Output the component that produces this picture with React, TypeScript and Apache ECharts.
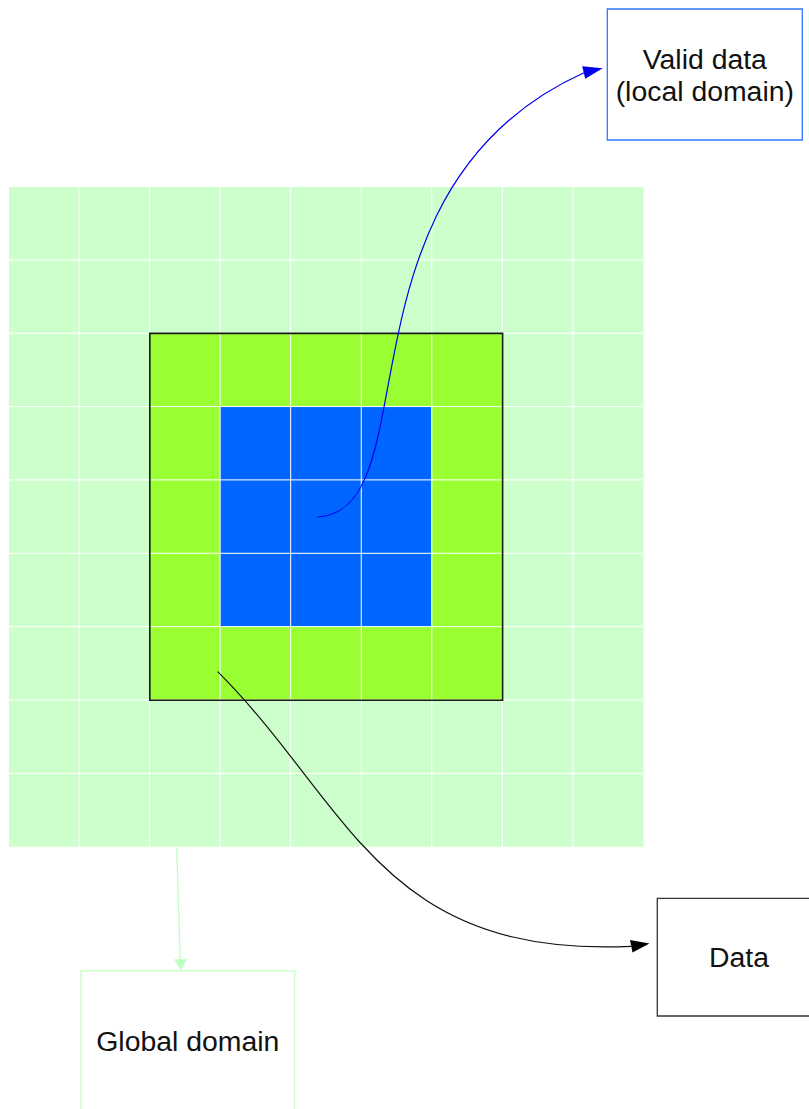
import React, { useEffect, useRef } from "react";
import * as echarts from "echarts";

// Grid cells: 0 = global domain, 1 = data, 2 = valid data (local domain)
const columns = ["c0", "c1", "c2", "c3", "c4", "c5", "c6", "c7", "c8"];
const rows = ["r0", "r1", "r2", "r3", "r4", "r5", "r6", "r7", "r8"];
const cellCodes: number[][] = [
  [0, 0, 0, 0, 0, 0, 0, 0, 0],
  [0, 0, 0, 0, 0, 0, 0, 0, 0],
  [0, 0, 1, 1, 1, 1, 1, 0, 0],
  [0, 0, 1, 2, 2, 2, 1, 0, 0],
  [0, 0, 1, 2, 2, 2, 1, 0, 0],
  [0, 0, 1, 2, 2, 2, 1, 0, 0],
  [0, 0, 1, 1, 1, 1, 1, 0, 0],
  [0, 0, 0, 0, 0, 0, 0, 0, 0],
  [0, 0, 0, 0, 0, 0, 0, 0, 0],
];
const codeColors = ["#ccffcc", "#99ff33", "#0066ff"];
const labels = {
  valid: "Valid data\n(local domain)",
  data: "Data",
  global: "Global domain",
};

export default function App() {
  const ref = useRef<HTMLDivElement>(null);
  useEffect(() => {
    if (!ref.current) return;
    const chart = echarts.init(ref.current, undefined, { renderer: "svg" });
    const data: number[][] = [];
    cellCodes.forEach((row, r) => row.forEach((v, c) => data.push([c, r, v])));
    const font = "'Liberation Sans', Arial, sans-serif";
    const Z = 10;
    chart.setOption({
      animation: false,
      grid: { left: 8.7, top: 186.7, width: 635, height: 660.3 },
      xAxis: { type: "category", data: columns, show: false },
      yAxis: { type: "category", data: rows, show: false, inverse: true },
      visualMap: {
        type: "piecewise",
        show: false,
        dimension: 2,
        pieces: codeColors.map((color, i) => ({ value: i, color })),
      },
      series: [
        {
          type: "heatmap",
          data,
          itemStyle: { borderColor: "#ffffff", borderWidth: 1 },
          emphasis: { disabled: true },
          progressive: 0,
        },
      ],
      graphic: [
        // border around data region
        {
          type: "rect",
          z: Z,
          shape: { x: 149.8, y: 333.4, width: 352.8, height: 366.9 },
          style: { fill: "none", stroke: "#1a1a1a", lineWidth: 1.6 },
        },
        // Valid data box
        {
          type: "rect",
          z: Z,
          shape: { x: 607.3, y: 9, width: 195, height: 131 },
          style: { fill: "#ffffff", stroke: "#3377ff", lineWidth: 1.3 },
        },
        {
          type: "text",
          z: Z,
          x: 704.8,
          y: 75,
          style: {
            text: labels.valid,
            font: `28.4px ${font}`,
            fill: "#111",
            align: "center",
            verticalAlign: "middle",
            lineHeight: 32,
          },
        },
        // Data box
        {
          type: "rect",
          z: Z,
          shape: { x: 657.3, y: 898.3, width: 170, height: 117.7 },
          style: { fill: "#ffffff", stroke: "#333333", lineWidth: 1.3 },
        },
        {
          type: "text",
          z: Z,
          x: 739,
          y: 957,
          style: {
            text: labels.data,
            font: `28.4px ${font}`,
            fill: "#111",
            align: "center",
            verticalAlign: "middle",
          },
        },
        // Global domain box
        {
          type: "rect",
          z: Z,
          shape: { x: 81, y: 970.7, width: 213.7, height: 160 },
          style: { fill: "#ffffff", stroke: "#ccffcc", lineWidth: 1.5 },
        },
        {
          type: "text",
          z: Z,
          x: 187.8,
          y: 1041,
          style: {
            text: labels.global,
            font: `28.4px ${font}`,
            fill: "#111",
            align: "center",
            verticalAlign: "middle",
          },
        },
        // Blue arrow to valid data
        {
          type: "bezierCurve",
          z: Z,
          shape: { x1: 317, y1: 517, cpx1: 432, cpy1: 512, cpx2: 328, cpy2: 188, x2: 584, y2: 72.8 },
          style: { stroke: "#0000ee", lineWidth: 1.2, fill: "none" },
        },
        {
          type: "polygon",
          z: Z,
          shape: { points: [[602.7, 68.3], [582.2, 66.2], [585.2, 78.8]] },
          style: { fill: "#0000ee" },
        },
        // Black arrow to data
        {
          type: "bezierCurve",
          z: Z,
          shape: { x1: 217.7, y1: 671.7, cpx1: 350, cpy1: 804, cpx2: 380, cpy2: 958, x2: 631, y2: 946.3 },
          style: { stroke: "#111111", lineWidth: 1.2, fill: "none" },
        },
        {
          type: "polygon",
          z: Z,
          shape: { points: [[649.5, 943.5], [630, 940], [632.5, 952.5]] },
          style: { fill: "#000000" },
        },
        // Light green arrow to global domain
        {
          type: "line",
          z: Z,
          shape: { x1: 176.7, y1: 848, x2: 180.3, y2: 960 },
          style: { stroke: "#c2ffc2", lineWidth: 1.3 },
        },
        {
          type: "polygon",
          z: Z,
          shape: { points: [[180.7, 970.5], [174, 959.3], [187.3, 959.3]] },
          style: { fill: "#c2ffc2" },
        },
      ],
    });
    return () => chart.dispose();
  }, []);
  return (
    <div
      ref={ref}
      style={{ position: "absolute", left: 0, top: 0, width: 809, height: 1109 }}
    />
  );
}
